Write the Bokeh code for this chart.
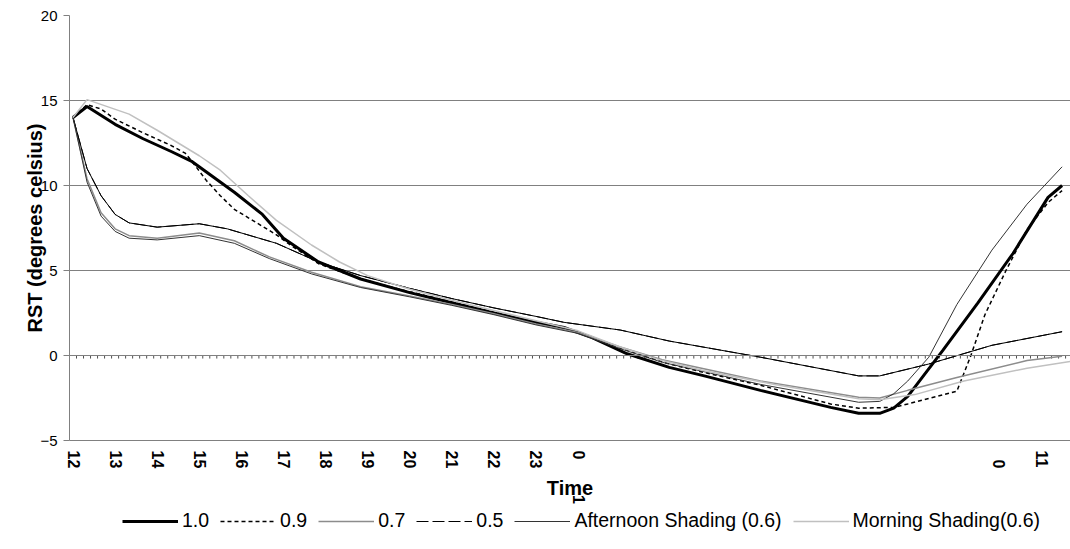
import math
from bokeh.plotting import figure
from bokeh.layouts import column
from bokeh.models import FixedTicker, Span, Legend, LegendItem
from bokeh.embed import file_html
from bokeh.resources import INLINE

# ---------------- data (category index = 10-minute steps from 12:00) ----------------
n_categories = 144
tick_idx = [0, 6, 12, 18, 24, 30, 36, 42, 48, 54, 60, 66, 72, 132, 138]
tick_labels = ["12", "13", "14", "15", "16", "17", "18", "19", "20", "21", "22", "23",
               "0\u2007\u2007\u2007\u20071", "\u20070", "11"]

x10 = [0, 2, 6, 10, 14, 17, 20, 23, 27, 30, 35, 41, 48, 54, 60, 66, 70, 72, 74, 79, 85, 90, 98, 108, 112, 115, 117, 119, 124, 129, 134, 139, 141]
y10 = [14.0, 14.65, 13.6, 12.75, 12.0, 11.4, 10.5, 9.6, 8.3, 6.9, 5.5, 4.5, 3.7, 3.1, 2.5, 1.95, 1.65, 1.35, 1.05, 0.1, -0.7, -1.2, -2.05, -3.05, -3.4, -3.4, -3.1, -2.4, 0.3, 3.1, 6.0, 9.3, 10.0]

x09 = [0, 2, 4, 6, 10, 14, 16, 17, 19, 21, 23, 25, 27, 29, 31, 35, 41, 48, 54, 60, 66, 72, 75, 79, 85, 90, 98, 108, 112, 117, 119, 126, 128, 130, 133, 136, 139, 141]
y09 = [14.0, 14.75, 14.5, 13.9, 13.1, 12.35, 11.9, 11.4, 10.3, 9.4, 8.6, 8.1, 7.6, 7.1, 6.5, 5.4, 4.5, 3.75, 3.15, 2.55, 1.95, 1.4, 0.85, 0.3, -0.5, -1.0, -1.75, -2.85, -3.1, -3.05, -2.85, -2.1, 0.0, 2.4, 5.0, 7.4, 9.0, 9.7]

x07 = [0, 2, 4, 6, 8, 12, 18, 23, 28, 34, 41, 48, 54, 60, 66, 72, 78, 84, 98, 112, 115, 119, 126, 136, 141]
y07 = [14.0, 10.4, 8.4, 7.45, 7.05, 6.9, 7.2, 6.75, 5.8, 4.9, 4.05, 3.5, 3.0, 2.45, 1.85, 1.35, 0.5, -0.25, -1.5, -2.45, -2.5, -2.05, -1.3, -0.3, -0.05]

x05 = [0, 2, 4, 6, 8, 12, 18, 22, 29, 35, 41, 48, 54, 60, 66, 70, 78, 85, 98, 112, 115, 122, 131, 141]
y05 = [14.0, 11.0, 9.4, 8.3, 7.8, 7.55, 7.75, 7.45, 6.6, 5.5, 4.7, 3.95, 3.35, 2.8, 2.3, 1.95, 1.5, 0.85, -0.1, -1.2, -1.2, -0.5, 0.6, 1.4]

x_aft = [0, 2, 4, 6, 8, 12, 18, 23, 28, 34, 41, 48, 54, 60, 66, 72, 78, 84, 98, 112, 115, 117, 119, 122, 126, 131, 136, 141]
y_aft = [14.0, 10.2, 8.2, 7.3, 6.9, 6.8, 7.05, 6.6, 5.7, 4.8, 4.0, 3.45, 2.95, 2.4, 1.8, 1.3, 0.4, -0.4, -1.7, -2.75, -2.7, -2.25, -1.5, -0.1, 3.0, 6.2, 8.9, 11.1]

x_mor = [0, 2, 8, 12, 18, 21, 25, 29, 34, 38, 42, 48, 54, 60, 66, 72, 78, 84, 90, 100, 112, 115, 120, 127, 136, 143]
y_mor = [14.0, 15.05, 14.2, 13.25, 11.75, 10.9, 9.4, 7.95, 6.5, 5.5, 4.7, 3.9, 3.25, 2.65, 2.05, 1.45, 0.5, -0.3, -0.9, -1.7, -2.55, -2.6, -2.3, -1.5, -0.75, -0.3]

series_names = ["1.0", "0.9", "0.7", "0.5", "Afternoon Shading (0.6)", "Morning Shading(0.6)"]
series_x = [x10, x09, x07, x05, x_aft, x_mor]
series_y = [y10, y09, y07, y05, y_aft, y_mor]
y_ticks = [-5, 0, 5, 10, 15, 20]

FONT = "Liberation Sans"
GRID = "#808080"

styles = [
    dict(line_color="black", line_width=3),
    dict(line_color="black", line_width=1.5, line_dash="4 3"),
    dict(line_color="#8c8c8c", line_width=1.5),
    dict(line_color="black", line_width=1, line_dash="12 4"),
    dict(line_color="#333333", line_width=1),
    dict(line_color="#c0c0c0", line_width=1.5),
]

p = figure(width=1070, height=510, output_backend="svg", toolbar_location=None,
           x_range=(-0.5, 142.2), y_range=(-5, 20),
           min_border_left=69, min_border_right=0, min_border_top=15, min_border_bottom=70)
p.outline_line_color = None

# grid
p.xgrid.visible = False
p.ygrid.ticker = FixedTicker(ticks=y_ticks)
p.ygrid.grid_line_color = GRID
p.ygrid.grid_line_width = 1

# y axis
ya = p.yaxis[0]
ya.ticker = FixedTicker(ticks=y_ticks)
ya.axis_line_color = GRID
ya.major_tick_line_color = GRID
ya.major_tick_out = 6
ya.major_tick_in = 0
ya.minor_tick_line_color = None
ya.major_label_standoff = 6
ya.major_label_text_font = FONT
ya.major_label_text_font_size = "15px"
ya.major_label_text_color = "black"
ya.axis_label = "RST (degrees celsius)"
ya.axis_label_text_font = FONT
ya.axis_label_text_font_size = "20px"
ya.axis_label_text_font_style = "bold"
ya.axis_label_text_color = "black"
ya.axis_label_standoff = -9

# x axis (category labels)
xa = p.xaxis[0]
xa.ticker = FixedTicker(ticks=tick_idx)
xa.major_label_overrides = {i: t for i, t in zip(tick_idx, tick_labels)}
xa.major_label_orientation = -math.pi / 2
xa.major_label_standoff = 10
xa.major_tick_line_color = None
xa.major_tick_out = 0
xa.minor_tick_line_color = None
xa.axis_line_color = GRID
xa.major_label_text_font = FONT
xa.major_label_text_font_size = "16px"
xa.major_label_text_font_style = "bold"
xa.major_label_text_color = "black"
xa.axis_label = "Time"
xa.axis_label_text_font = FONT
xa.axis_label_text_font_size = "20px"
xa.axis_label_text_font_style = "bold"
xa.axis_label_text_color = "black"
xa.axis_label_standoff = -30

# zero line with category tick marks
p.add_layout(Span(location=0, dimension="width", line_color=GRID, line_width=1))
bounds = [i + 0.5 for i in range(n_categories)]
p.segment(x0=bounds, x1=bounds, y0=[0] * len(bounds), y1=[-0.18] * len(bounds),
          line_color="#505050", line_width=1)

# series (0.5 is drawn solid underneath: Excel restarts its long dash at every vertex)
p.line(x10, y10, **styles[0])
p.line(x09, y09, **styles[1])
p.line(x07, y07, **styles[2])
p.line(x05, y05, line_color="black", line_width=1)
p.line(x05, y05, **styles[3])
p.line(x_aft, y_aft, **styles[4])
p.line(x_mor, y_mor, **styles[5])

# legend strip below the chart (same series, viewed through a range where no line shows)
leg = figure(width=1070, height=39, output_backend="svg", toolbar_location=None,
             x_range=(0, 1), y_range=(100, 101), x_axis_type=None, y_axis_type=None,
             min_border=0)
leg.outline_line_color = None
leg.grid.visible = False
items = []
for name, xs, ys, st in zip(series_names, series_x, series_y, styles):
    r = leg.line(xs, ys, **st)
    items.append(LegendItem(label=name, renderers=[r]))
legend = Legend(items=items, orientation="horizontal", location=(53, 17))
legend.label_text_font = FONT
legend.label_text_font_size = "19.5px"
legend.label_text_color = "black"
legend.glyph_width = 56
legend.glyph_height = 20
legend.label_standoff = 4
legend.spacing = 11
legend.padding = 0
legend.margin = 0
legend.border_line_color = None
legend.background_fill_alpha = 0
leg.add_layout(legend)

page = column(p, leg, spacing=0)
open("out.html", "w").write(file_html(page, INLINE))
